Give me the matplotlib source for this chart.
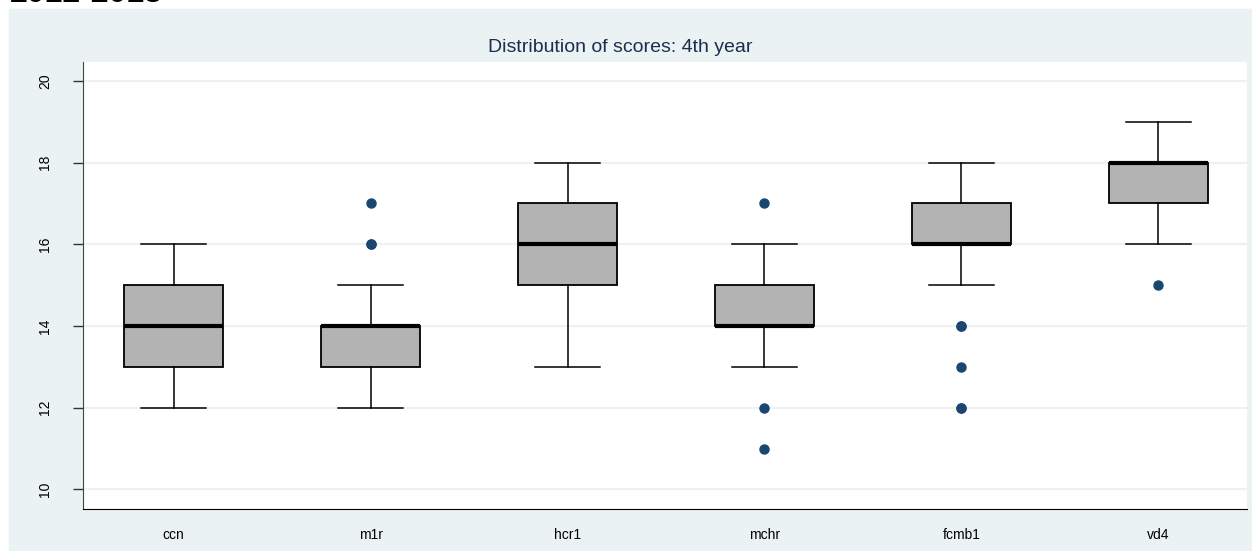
import matplotlib.pyplot as plt
from matplotlib.patches import Rectangle

plt.rcParams['font.family'] = ['Liberation Sans', 'DejaVu Sans']

# box statistics
labels = ['ccn', 'm1r', 'hcr1', 'mchr', 'fcmb1', 'vd4']
q1 = [13, 13, 15, 14, 16, 17]
med = [14, 14, 16, 14, 16, 18]
q3 = [15, 14, 17, 15, 17, 18]
whislo = [12, 12, 13, 13, 15, 16]
whishi = [16, 15, 18, 16, 18, 19]
fliers = [[], [16, 16, 17], [], [17, 12, 11], [14, 14, 13, 12, 12], [15]]
yticks = [10, 12, 14, 16, 18, 20]

W, H = 1252, 551
fig = plt.figure(figsize=(W / 100, H / 100), dpi=100, facecolor='white')

# outer grey-blue region
bg = '#eaf2f3'
fig.patches.append(Rectangle((9 / W, 0), 1 - 9 / W, 1 - 9 / H,
                             transform=fig.transFigure, color=bg, zorder=-10))

# heading cut off at the top edge, as in the source
fig.text(10 / W, 1 - 1.8 / H, '2012-2013', fontsize=23, fontweight='bold',
         va='baseline', ha='left', color='black')

ax = fig.add_axes([83 / W, 1 - 509 / H, (1247 - 83) / W, (509 - 62) / H])
ax.set_facecolor('white')

stats = []
for i in range(len(labels)):
    stats.append(dict(label=labels[i], q1=q1[i], med=med[i], q3=q3[i],
                      whislo=whislo[i], whishi=whishi[i], fliers=fliers[i]))

ax.bxp(stats, positions=range(1, 7), widths=0.5, capwidths=0.33,
       patch_artist=True,
       boxprops=dict(facecolor='#b3b3b3', edgecolor='black', linewidth=1.3),
       medianprops=dict(color='black', linewidth=3),
       whiskerprops=dict(color='black', linewidth=1.1),
       capprops=dict(color='black', linewidth=1.1),
       flierprops=dict(marker='o', markerfacecolor='#1a476f',
                       markeredgecolor='#1a476f', markersize=6.5))

ax.set_xlim(0.54, 6.45)
ax.set_ylim(9.52, 20.46)
ax.set_yticks(yticks)
ax.set_yticklabels([str(t) for t in yticks], rotation=90, va='center')
ax.yaxis.grid(True, color=bg, linewidth=1.5)
ax.set_axisbelow(True)

ax.tick_params(axis='y', length=7, width=1, color='#333333', pad=15,
               labelsize=10)
ax.tick_params(axis='x', length=0, pad=14, labelsize=10)

for s in ['top', 'right']:
    ax.spines[s].set_visible(False)
ax.spines['left'].set_color('#444444')
ax.spines['bottom'].set_color('black')

fig.text(620 / W, 1 - 47 / H, 'Distribution of scores: 4th year',
         fontsize=14, color='#1e2d4f', ha='center', va='center')

fig.savefig('out.png', dpi=100, facecolor='white')
